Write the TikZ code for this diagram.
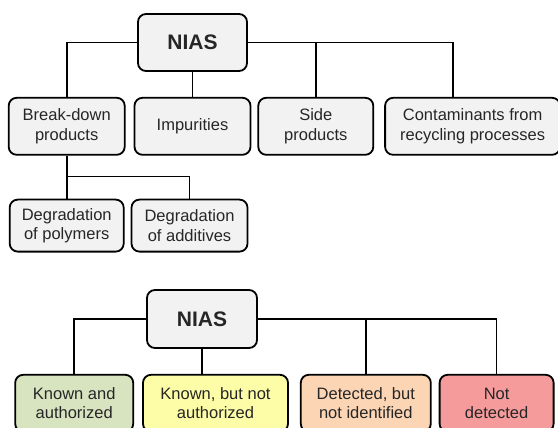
\documentclass[tikz,border=0pt]{standalone}
\usepackage{fontspec}
\setmainfont{Liberation Sans}
\usetikzlibrary{positioning}
\definecolor{boxgray}{HTML}{F2F2F2}
\definecolor{boxgreen}{HTML}{D8E4C0}
\definecolor{boxyellow}{HTML}{FDFDA8}
\definecolor{boxpeach}{HTML}{FCD5B5}
\definecolor{boxred}{HTML}{F69B9B}
\begin{document}
\begin{tikzpicture}[line width=1.6pt,node distance=25pt,
				main node/.style = {rectangle,rounded corners=8pt,draw,line width=1.8pt,fill=boxgray,align=center,
					inner sep=0pt,minimum width=116pt,minimum height=57pt,text=black!85,font=\fontsize{16.5}{19.5}\selectfont},
				root node/.style = {main node,minimum width=109pt,font=\fontsize{21}{24}\selectfont\bfseries}]
				\useasboundingbox (0,0) rectangle (558pt,-428pt);
				
				% first tree
				\node[root node] (nias1) at (192.5pt,-42.5pt) {NIAS};
				\node[main node] [below=of nias1](imp) {Impurities};
				\node[main node] [left=8pt of imp](bd) {Break-down\\products};
				\node[main node,minimum width=115pt] [right=6pt of imp](side) {Side\\products};
				\node[main node,minimum width=175pt] [right=10pt of side](cont) {Contaminants from\\recycling processes};
				\node[main node,minimum width=114pt,minimum height=52pt] [below=43pt of bd](pol) {Degradation\\of polymers};
				\node[main node,minimum height=52pt] [right=6pt of pol](add) {Degradation\\of additives};
				\coordinate [below=21pt of bd] (split);
				
				\draw (nias1) -| (bd);
				\draw (nias1) -- (imp);
				\draw (nias1) -| (side);
				\draw (nias1) -| ([xshift=-19.5pt]cont.north);
				\draw (bd) -- (split) -| (add);
				\draw (split) -- (pol);
				
				% second tree
				\node[root node,minimum width=110pt,minimum height=58pt] (nias2) at (202pt,-319pt) {NIAS};
				\node[main node,minimum width=145pt,fill=boxyellow] [below=of nias2,xshift=13.5pt](known) {Known, but not\\authorized};
				\node[main node,minimum width=118pt,fill=boxgreen] [left=8pt of known](auth) {Known and\\authorized};
				\node[main node,minimum width=130pt,fill=boxpeach] [right=11pt of known](det) {Detected, but\\not identified};
				\node[main node,minimum width=114pt,fill=boxred] [right=7pt of det](notdet) {Not\\detected};
				
				\draw (nias2) -| (auth);
				\draw (nias2) -- (nias2 |- known.north);
				\draw (nias2) -| (det);
				\draw (nias2) -| (notdet);
				\end{tikzpicture}
\end{document}
